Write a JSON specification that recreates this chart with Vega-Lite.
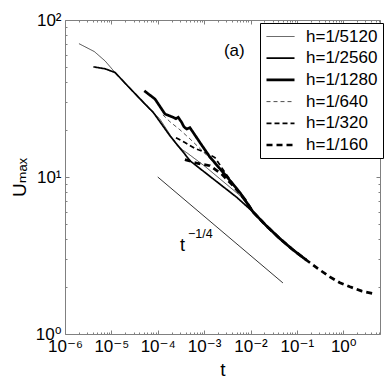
{
  "$schema": "https://vega.github.io/schema/vega-lite/v6.json",
  "width": 315,
  "height": 314,
  "autosize": {"type": "none"},
  "padding": {"left": 65, "top": 20, "right": 6, "bottom": 49},
  "config": {
    "font": "Liberation Sans, DejaVu Sans",
    "view": {"stroke": null},
    "axis": {
      "grid": false,
      "domainColor": "#808080",
      "tickColor": "#808080",
      "domainWidth": 1,
      "labelFont": "Liberation Sans, DejaVu Sans",
      "labelFontSize": 17,
      "labelColor": "black",
      "labelOverlap": false,
      "labelBound": false,
      "labelFlush": false,
      "titleFont": "Liberation Sans, DejaVu Sans",
      "titleFontWeight": "normal",
      "titleColor": "black",
      "titleFontSize": 19
    },
    "legend": {
      "orient": "none",
      "legendX": 195,
      "legendY": 3,
      "strokeColor": "black",
      "fillColor": "white",
      "padding": 5,
      "labelFont": "Liberation Sans, DejaVu Sans",
      "labelFontSize": 17,
      "labelColor": "black",
      "labelLimit": 300,
      "labelOffset": 17,
      "symbolType": "M-2,0H2",
      "symbolSize": 196,
      "symbolOffset": 7,
      "symbolStrokeColor": "black",
      "rowPadding": 3.7
    }
  },
  "datasets": {
    "curves": [
      {"h": "h=1/5120", "t": 2.0e-6, "U": 70.7},
      {"h": "h=1/5120", "t": 4.3e-6, "U": 62.9},
      {"h": "h=1/5120", "t": 7.3e-6, "U": 54.9},
      {"h": "h=1/5120", "t": 1.2e-5, "U": 46.3},
      {"h": "h=1/5120", "t": 2.5e-5, "U": 36.5},
      {"h": "h=1/5120", "t": 5.3e-5, "U": 28.9},
      {"h": "h=1/5120", "t": 1.11e-4, "U": 23.4},
      {"h": "h=1/5120", "t": 2.0e-4, "U": 17.9},
      {"h": "h=1/5120", "t": 2.72e-4, "U": 15.6},
      {"h": "h=1/5120", "t": 4.48e-4, "U": 14.1},
      {"h": "h=1/5120", "t": 1.04e-3, "U": 11.7},
      {"h": "h=1/5120", "t": 2.42e-3, "U": 9.5},
      {"h": "h=1/5120", "t": 5.9e-3, "U": 7.63},
      {"h": "h=1/5120", "t": 1.14e-2, "U": 5.98},
      {"h": "h=1/5120", "t": 2.15e-2, "U": 4.92},
      {"h": "h=1/5120", "t": 4.3e-2, "U": 4.05},

      {"h": "h=1/2560", "t": 4.1e-6, "U": 50.3},
      {"h": "h=1/2560", "t": 7.3e-6, "U": 48.9},
      {"h": "h=1/2560", "t": 1.2e-5, "U": 46.3},
      {"h": "h=1/2560", "t": 2.5e-5, "U": 36.8},
      {"h": "h=1/2560", "t": 5.3e-5, "U": 29.2},
      {"h": "h=1/2560", "t": 8.0e-5, "U": 25.8},
      {"h": "h=1/2560", "t": 1.83e-4, "U": 18.3},
      {"h": "h=1/2560", "t": 3.55e-4, "U": 14.4},
      {"h": "h=1/2560", "t": 4.94e-4, "U": 12.7},
      {"h": "h=1/2560", "t": 5.09e-3, "U": 7.41},
      {"h": "h=1/2560", "t": 1.14e-2, "U": 5.98},
      {"h": "h=1/2560", "t": 2.15e-2, "U": 4.92},
      {"h": "h=1/2560", "t": 4.3e-2, "U": 4.05},
      {"h": "h=1/2560", "t": 8.2e-2, "U": 3.44},

      {"h": "h=1/1280", "t": 5.12e-5, "U": 35.4},
      {"h": "h=1/1280", "t": 8.71e-5, "U": 31.4},
      {"h": "h=1/1280", "t": 1.43e-4, "U": 25.2},
      {"h": "h=1/1280", "t": 2.16e-4, "U": 24.0},
      {"h": "h=1/1280", "t": 2.47e-4, "U": 23.5},
      {"h": "h=1/1280", "t": 2.77e-4, "U": 24.0},
      {"h": "h=1/1280", "t": 3.27e-4, "U": 22.3},
      {"h": "h=1/1280", "t": 3.67e-4, "U": 20.9},
      {"h": "h=1/1280", "t": 4.2e-4, "U": 20.2},
      {"h": "h=1/1280", "t": 4.94e-4, "U": 20.6},
      {"h": "h=1/1280", "t": 5.82e-4, "U": 19.2},
      {"h": "h=1/1280", "t": 8.1e-4, "U": 16.6},
      {"h": "h=1/1280", "t": 1.33e-3, "U": 13.4},
      {"h": "h=1/1280", "t": 2.19e-3, "U": 11.3},
      {"h": "h=1/1280", "t": 3.6e-3, "U": 9.5},
      {"h": "h=1/1280", "t": 5.9e-3, "U": 7.97},
      {"h": "h=1/1280", "t": 1.14e-2, "U": 5.98},
      {"h": "h=1/1280", "t": 2.15e-2, "U": 4.92},
      {"h": "h=1/1280", "t": 4.3e-2, "U": 4.05},
      {"h": "h=1/1280", "t": 8.2e-2, "U": 3.44},
      {"h": "h=1/1280", "t": 0.162, "U": 2.95},

      {"h": "h=1/640", "t": 1.29e-4, "U": 24.9},
      {"h": "h=1/640", "t": 1.83e-4, "U": 22.5},
      {"h": "h=1/640", "t": 3.0e-4, "U": 20.0},
      {"h": "h=1/640", "t": 4.94e-4, "U": 17.5},
      {"h": "h=1/640", "t": 8.1e-4, "U": 15.2},
      {"h": "h=1/640", "t": 1.71e-3, "U": 12.2},
      {"h": "h=1/640", "t": 3.26e-3, "U": 9.78},
      {"h": "h=1/640", "t": 5.9e-3, "U": 7.86},
      {"h": "h=1/640", "t": 1.14e-2, "U": 6.0},
      {"h": "h=1/640", "t": 2.15e-2, "U": 4.92},
      {"h": "h=1/640", "t": 4.3e-2, "U": 4.05},
      {"h": "h=1/640", "t": 8.2e-2, "U": 3.44},
      {"h": "h=1/640", "t": 0.162, "U": 2.95},

      {"h": "h=1/320", "t": 2.47e-4, "U": 17.8},
      {"h": "h=1/320", "t": 3.85e-4, "U": 16.6},
      {"h": "h=1/320", "t": 6.3e-4, "U": 15.2},
      {"h": "h=1/320", "t": 1.04e-3, "U": 14.4},
      {"h": "h=1/320", "t": 1.71e-3, "U": 13.3},
      {"h": "h=1/320", "t": 2.8e-3, "U": 10.7},
      {"h": "h=1/320", "t": 4.61e-3, "U": 8.7},
      {"h": "h=1/320", "t": 7.57e-3, "U": 7.2},
      {"h": "h=1/320", "t": 1.14e-2, "U": 6.0},
      {"h": "h=1/320", "t": 2.15e-2, "U": 4.92},
      {"h": "h=1/320", "t": 4.3e-2, "U": 4.05},
      {"h": "h=1/320", "t": 8.2e-2, "U": 3.44},
      {"h": "h=1/320", "t": 0.162, "U": 2.95},

      {"h": "h=1/160", "t": 3.85e-4, "U": 12.9},
      {"h": "h=1/160", "t": 7.35e-4, "U": 12.2},
      {"h": "h=1/160", "t": 1.33e-3, "U": 11.8},
      {"h": "h=1/160", "t": 2.42e-3, "U": 10.4},
      {"h": "h=1/160", "t": 4.38e-3, "U": 8.7},
      {"h": "h=1/160", "t": 7.57e-3, "U": 7.2},
      {"h": "h=1/160", "t": 1.14e-2, "U": 5.98},
      {"h": "h=1/160", "t": 2.15e-2, "U": 4.92},
      {"h": "h=1/160", "t": 4.3e-2, "U": 4.05},
      {"h": "h=1/160", "t": 8.2e-2, "U": 3.44},
      {"h": "h=1/160", "t": 0.162, "U": 2.95},
      {"h": "h=1/160", "t": 0.284, "U": 2.61},
      {"h": "h=1/160", "t": 0.514, "U": 2.31},
      {"h": "h=1/160", "t": 0.845, "U": 2.12},
      {"h": "h=1/160", "t": 1.39, "U": 2.0},
      {"h": "h=1/160", "t": 2.52, "U": 1.875},
      {"h": "h=1/160", "t": 4.4, "U": 1.81}
    ],
    "slope": [
      {"t": 1.0e-4, "U": 10.0},
      {"t": 0.05, "U": 2.115}
    ]
  },
  "layer": [
    {
      "data": {"name": "curves"},
      "mark": {"type": "line", "color": "black", "clip": true},
      "encoding": {
        "x": {
          "field": "t", "type": "quantitative",
          "scale": {"type": "log", "domain": [1e-6, 6.2], "nice": false},
          "axis": {
            "orient": "bottom",
            "title": "t",
            "titlePadding": 4,
            "values": [1e-6,2e-6,3e-6,4e-6,5e-6,6e-6,7e-6,8e-6,9e-6,1e-5,2e-5,3e-5,4e-5,5e-5,6e-5,7e-5,8e-5,9e-5,1e-4,2e-4,3e-4,4e-4,5e-4,6e-4,7e-4,8e-4,9e-4,0.001,0.002,0.003,0.004,0.005,0.006,0.007,0.008,0.009,0.01,0.02,0.03,0.04,0.05,0.06,0.07,0.08,0.09,0.1,0.2,0.3,0.4,0.5,0.6,0.7,0.8,0.9,1,2,3,4,5,6],
            "labelExpr": "abs(log(datum.value)/LN10 - round(log(datum.value)/LN10)) < 0.001 ? ['10⁻⁶','10⁻⁵','10⁻⁴','10⁻³','10⁻²','10⁻¹','10⁰'][round(log(datum.value)/LN10)+6] : ''",
            "tickSize": {"condition": {"test": "abs(log(datum.value)/LN10 - round(log(datum.value)/LN10)) < 0.001", "value": -4}, "value": -2},
            "labelPadding": 8
          }
        },
        "y": {
          "field": "U", "type": "quantitative",
          "scale": {"type": "log", "domain": [1, 100], "nice": false},
          "axis": {
            "orient": "left",
            "title": "Uₘₐₓ",
            "titlePadding": 6,
            "values": [1,2,3,4,5,6,7,8,9,10,20,30,40,50,60,70,80,90,100],
            "labelExpr": "abs(log(datum.value)/LN10 - round(log(datum.value)/LN10)) < 0.001 ? ['10⁰','10¹','10²'][round(log(datum.value)/LN10)] : ''",
            "tickSize": {"condition": {"test": "abs(log(datum.value)/LN10 - round(log(datum.value)/LN10)) < 0.001", "value": -4}, "value": -2},
            "labelPadding": 8
          }
        },
        "strokeDash": {
          "field": "h", "type": "nominal",
          "scale": {
            "type": "ordinal",
            "domain": ["h=1/5120", "h=1/2560", "h=1/1280", "h=1/640", "h=1/320", "h=1/160"],
            "range": [[1, 0], [1, 0], [1, 0], [4, 3], [5, 3], [6, 4]]
          },
          "legend": {"title": null}
        },
        "strokeWidth": {
          "field": "h", "type": "nominal",
          "scale": {
            "type": "ordinal",
            "domain": ["h=1/5120", "h=1/2560", "h=1/1280", "h=1/640", "h=1/320", "h=1/160"],
            "range": [0.7, 1.7, 2.7, 0.7, 1.7, 2.7]
          },
          "legend": {"title": null}
        }
      }
    },
    {
      "data": {"name": "slope"},
      "mark": {"type": "line", "color": "black", "strokeWidth": 0.8},
      "encoding": {
        "x": {
          "field": "t", "type": "quantitative",
          "axis": {
            "orient": "top", "title": null, "labels": false,
            "values": [1e-6,2e-6,3e-6,4e-6,5e-6,6e-6,7e-6,8e-6,9e-6,1e-5,2e-5,3e-5,4e-5,5e-5,6e-5,7e-5,8e-5,9e-5,1e-4,2e-4,3e-4,4e-4,5e-4,6e-4,7e-4,8e-4,9e-4,0.001,0.002,0.003,0.004,0.005,0.006,0.007,0.008,0.009,0.01,0.02,0.03,0.04,0.05,0.06,0.07,0.08,0.09,0.1,0.2,0.3,0.4,0.5,0.6,0.7,0.8,0.9,1,2,3,4,5,6],
            "tickSize": {"condition": {"test": "abs(log(datum.value)/LN10 - round(log(datum.value)/LN10)) < 0.001", "value": -4}, "value": -2}
          }
        },
        "y": {
          "field": "U", "type": "quantitative",
          "axis": {
            "orient": "right", "title": null, "labels": false,
            "values": [1,2,3,4,5,6,7,8,9,10,20,30,40,50,60,70,80,90,100],
            "tickSize": {"condition": {"test": "abs(log(datum.value)/LN10 - round(log(datum.value)/LN10)) < 0.001", "value": -4}, "value": -2}
          }
        }
      }
    },
    {
      "data": {"values": [{"t": 2.67e-3, "U": 59.1, "label": "(a)"}]},
      "mark": {"type": "text", "align": "left", "baseline": "alphabetic", "fontSize": 17, "font": "Liberation Sans, DejaVu Sans"},
      "encoding": {
        "x": {"field": "t", "type": "quantitative", "axis": null},
        "y": {"field": "U", "type": "quantitative", "axis": null},
        "text": {"field": "label"}
      }
    },
    {
      "data": {"values": [{"t": 3.0e-4, "U": 3.37, "label": "t"}]},
      "mark": {"type": "text", "align": "left", "baseline": "alphabetic", "fontSize": 18, "font": "Liberation Sans, DejaVu Sans"},
      "encoding": {
        "x": {"field": "t", "type": "quantitative", "axis": null},
        "y": {"field": "U", "type": "quantitative", "axis": null},
        "text": {"field": "label"}
      }
    },
    {
      "data": {"values": [{"t": 4.48e-4, "U": 4.07, "label": "−1/4"}]},
      "mark": {"type": "text", "align": "left", "baseline": "alphabetic", "fontSize": 12.5, "font": "Liberation Sans, DejaVu Sans"},
      "encoding": {
        "x": {"field": "t", "type": "quantitative", "axis": null},
        "y": {"field": "U", "type": "quantitative", "axis": null},
        "text": {"field": "label"}
      }
    }
  ],
  "resolve": {"axis": {"x": "independent", "y": "independent"}}
}
